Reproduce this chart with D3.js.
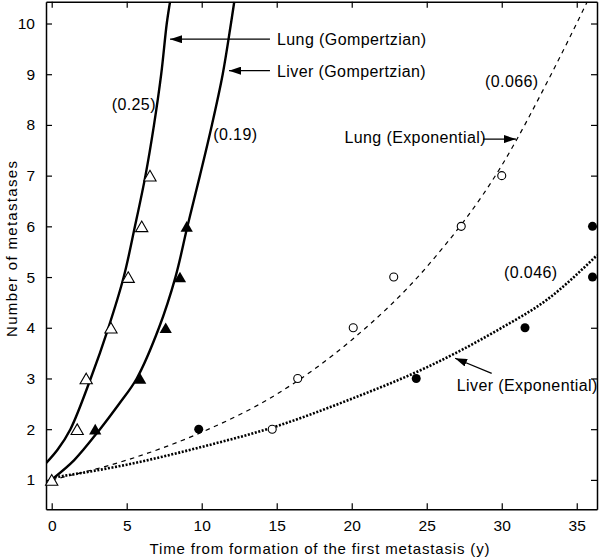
<!DOCTYPE html>
<html>
<head>
<meta charset="utf-8">
<script src="https://cdn.jsdelivr.net/npm/d3@7"></script>
<style>
body { margin: 0; background: #fff; }
svg { display: block; }
text { font-family: "Liberation Sans", Arial, Helvetica, sans-serif; fill: #000; }
</style>
</head>
<body>
<script>
// observed points (time in years, number of metastases)
const lungGompT = [0, 1.7, 2.3, 3.95, 5.1, 6.0, 6.55];
const lungGompN = [1, 2, 3, 4, 5, 6, 7];
const liverGompT = [2.9, 5.9, 7.6, 8.55, 9.0];
const liverGompN = [2, 3, 4, 5, 6];
const lungExpT = [14.7, 16.4, 20.1, 22.8, 27.3, 30.0];
const lungExpN = [2, 3, 4, 5, 6, 7];
const liverExpT = [9.8, 24.3, 31.55, 36.05, 36.05];
const liverExpN = [2, 3, 4, 5, 6];

// fitted curves
const lungGompFitT = [-0.38, 0.4, 1.25, 2.6, 3.78, 4.8, 5.55, 6.25, 6.82, 7.3, 7.67, 7.89];
const lungGompFitN = [1.33, 1.6, 2, 3, 4, 5, 6, 7, 8, 9, 10, 10.43];
const liverGompFitT = [0.1, 1.5, 3.22, 4.5, 5.67, 7.15, 8.25, 9.05, 9.88, 10.68, 11.4, 11.95, 12.17];
const liverGompFitN = [1.03, 1.39, 2, 2.5, 3, 4, 5, 6, 7, 8, 9, 10, 10.43];
const lungExpFitT = [0, 5, 10, 15, 20, 25, 30, 33.3, 35.7];
const lungExpFitN = [1, 1.39, 1.94, 2.69, 3.76, 5.2, 7.2, 9, 10.43];
const liverExpFitT = [0.2, 5, 10, 15, 20, 25, 30, 33, 36.35];
const liverExpFitN = [1.05, 1.3, 1.65, 2.06, 2.6, 3.22, 4.0, 4.55, 5.43];

const xTicks = [0, 5, 10, 15, 20, 25, 30, 35];
const yTicks = [1, 2, 3, 4, 5, 6, 7, 8, 9, 10];

const zip = (a, b) => a.map((v, i) => [v, b[i]]);

const svg = d3.select("body").append("svg")
    .attr("width", 600)
    .attr("height", 559);

const x = d3.scaleLinear().domain([-0.38, 36.35]).range([46, 597]);
const y = d3.scaleLinear().domain([0.42, 10.43]).range([509.3, 1.7]);

svg.append("defs").append("clipPath").attr("id", "plot")
  .append("rect")
    .attr("x", x.range()[0]).attr("y", y.range()[1])
    .attr("width", x.range()[1] - x.range()[0])
    .attr("height", y.range()[0] - y.range()[1]);

svg.select("defs").append("marker")
    .attr("id", "head")
    .attr("viewBox", "0 0 12 8")
    .attr("refX", 12).attr("refY", 4)
    .attr("markerWidth", 12).attr("markerHeight", 8)
    .attr("markerUnits", "userSpaceOnUse")
    .attr("orient", "auto")
  .append("path")
    .attr("d", "M0,0L12,4L0,8Z")
    .attr("fill", "#000");

// axes, ticks pointing inward on all four sides
function styleAxis(g) {
  g.attr("font-family", null).attr("font-size", null);
  g.select(".domain").attr("stroke", "#000").attr("stroke-width", 1.5);
  g.selectAll(".tick line").attr("stroke", "#000").attr("stroke-width", 1.2);
  g.selectAll(".tick text").attr("font-size", 15.5);
}

svg.append("g")
    .attr("transform", `translate(0,${y.range()[0]})`)
    .call(d3.axisBottom(x).tickValues(xTicks).tickSizeInner(-6).tickSizeOuter(0).tickPadding(11))
    .call(styleAxis);

svg.append("g")
    .attr("transform", `translate(0,${y.range()[1]})`)
    .call(d3.axisTop(x).tickValues(xTicks).tickSizeInner(-6).tickSizeOuter(0).tickFormat(""))
    .call(styleAxis);

svg.append("g")
    .attr("transform", `translate(${x.range()[0]},0)`)
    .call(d3.axisLeft(y).tickValues(yTicks).tickSizeInner(-6).tickSizeOuter(0).tickPadding(11))
    .call(styleAxis);

svg.append("g")
    .attr("transform", `translate(${x.range()[1]},0)`)
    .call(d3.axisRight(y).tickValues(yTicks).tickSizeInner(-6).tickSizeOuter(0).tickFormat(""))
    .call(styleAxis);

// axis titles
svg.append("text")
    .attr("x", (x.range()[0] + x.range()[1]) / 2 - 2)
    .attr("y", 554)
    .attr("text-anchor", "middle")
    .attr("font-size", 15)
    .attr("textLength", 340)
    .attr("lengthAdjust", "spacing")
    .text("Time from formation of the first metastasis (y)");

svg.append("text")
    .attr("transform", "translate(17,249) rotate(-90)")
    .attr("text-anchor", "middle")
    .attr("font-size", 15)
    .attr("textLength", 176)
    .attr("lengthAdjust", "spacing")
    .text("Number of metastases");

// curves
const lineX = d3.line().x(d => x(d[0])).y(d => y(d[1])).curve(d3.curveMonotoneX);
const lineC = d3.line().x(d => x(d[0])).y(d => y(d[1])).curve(d3.curveCatmullRom.alpha(0.5));
const curves = svg.append("g").attr("clip-path", "url(#plot)").attr("fill", "none").attr("stroke", "#000");

curves.append("path").attr("d", lineX(zip(lungExpFitT, lungExpFitN)))
    .attr("stroke-width", 1.2).attr("stroke-dasharray", "4.5,4.5");
curves.append("path").attr("d", lineX(zip(liverExpFitT, liverExpFitN)))
    .attr("stroke-width", 2.6).attr("stroke-dasharray", "2,1.6");
curves.append("path").attr("d", lineC(zip(lungGompFitT, lungGompFitN)))
    .attr("stroke-width", 2.4);
curves.append("path").attr("d", lineC(zip(liverGompFitT, liverGompFitN)))
    .attr("stroke-width", 2.4);

// markers
const triSize = 65;
const triOff = Math.sqrt(triSize / (3 * Math.sqrt(3))) / 2;
const tri = d3.symbol().type(d3.symbolTriangle).size(triSize);
const pts = svg.append("g");

pts.selectAll(".lg").data(zip(lungGompT, lungGompN)).join("path")
    .attr("d", tri)
    .attr("transform", d => `translate(${x(d[0])},${y(d[1]) + triOff})`)
    .attr("fill", "#fff").attr("stroke", "#000").attr("stroke-width", 1.1);

pts.selectAll(".vg").data(zip(liverGompT, liverGompN)).join("path")
    .attr("d", tri)
    .attr("transform", d => `translate(${x(d[0])},${y(d[1]) + triOff})`)
    .attr("fill", "#000");

pts.selectAll(".le").data(zip(lungExpT, lungExpN)).join("circle")
    .attr("cx", d => x(d[0])).attr("cy", d => y(d[1])).attr("r", 4)
    .attr("fill", "#fff").attr("stroke", "#000").attr("stroke-width", 1.1);

pts.selectAll(".ve").data(zip(liverExpT, liverExpN)).join("circle")
    .attr("cx", d => x(d[0])).attr("cy", d => y(d[1])).attr("r", 4.5)
    .attr("fill", "#000");

// annotations (data coordinates)
const labels = [
  {t: 15.02, n: 9.57, s: "Lung (Gompertzian)"},
  {t: 15.02, n: 8.95, s: "Liver (Gompertzian)"},
  {t: 4.0, n: 8.29, s: "(0.25)"},
  {t: 10.77, n: 7.7, s: "(0.19)"},
  {t: 28.89, n: 8.75, s: "(0.066)"},
  {t: 19.51, n: 7.64, s: "Lung (Exponential)"},
  {t: 30.15, n: 4.98, s: "(0.046)"},
  {t: 27.0, n: 2.75, s: "Liver (Exponential)"}
];
svg.append("g").selectAll("text").data(labels).join("text")
    .attr("x", d => x(d.t)).attr("y", d => y(d.n))
    .attr("font-size", 16)
    .attr("letter-spacing", 0.4)
    .text(d => d.s);

const arrows = [
  [14.55, 9.69, 7.89, 9.69],
  [14.55, 9.07, 11.82, 9.07],
  [28.75, 7.72, 30.95, 7.72],
  [29.33, 3.10, 26.89, 3.40]
];
svg.append("g").selectAll("line").data(arrows).join("line")
    .attr("x1", d => x(d[0])).attr("y1", d => y(d[1]))
    .attr("x2", d => x(d[2])).attr("y2", d => y(d[3]))
    .attr("stroke", "#000").attr("stroke-width", 1.2)
    .attr("marker-end", "url(#head)");
</script>
</body>
</html>
